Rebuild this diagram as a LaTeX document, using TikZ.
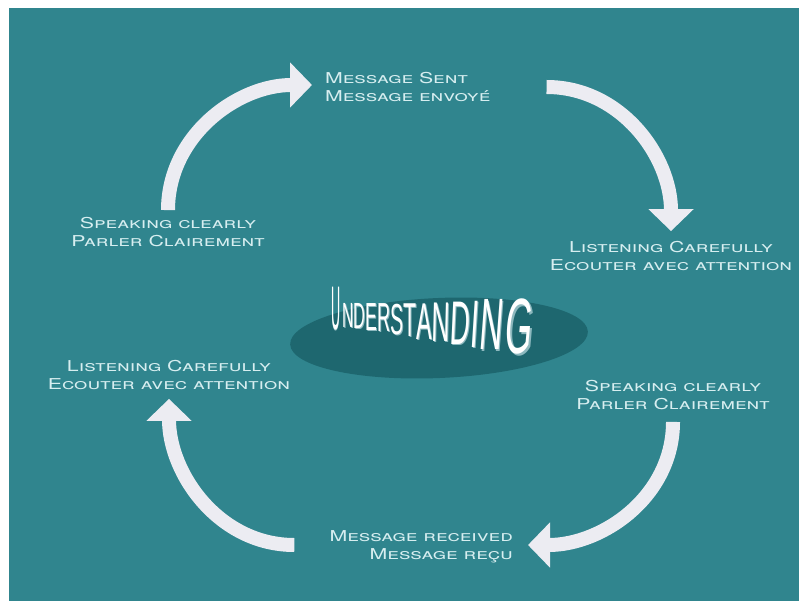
\documentclass[tikz,border=0pt]{standalone}
\usepackage{fontspec}
\usetikzlibrary{arrows.meta,shapes.geometric}
\newfontfamily\cyclefont{TeX Gyre Heros}[Letters=SmallCaps,FakeStretch=1.42]
\newfontfamily\wordfont{Liberation Sans}
\definecolor{sea}{RGB}{48,133,142}
\definecolor{pool}{RGB}{30,103,111}
\definecolor{chalk}{RGB}{236,236,242}
\definecolor{ink}{RGB}{215,238,240}
\definecolor{rim}{RGB}{140,184,190}
\newcommand\raised[1]{\rlap{\kern0.7pt\raisebox{-0.4pt}{\color{rim}#1}}#1}

\begin{document}
\begin{tikzpicture}[x=1pt,y=1pt,
    label/.style={font=\cyclefont\fontsize{15}{18}\selectfont, text=ink, align=center, inner sep=2pt},
    flow/.style={draw=chalk, line width=14pt, -{Triangle[width=44pt,length=22pt]}},
    word/.style={font=\wordfont\fontsize{14}{14}\selectfont, anchor=base west, inner sep=0pt, text=white}]
    \fill[white] (0,0) rectangle (799,603);
    \useasboundingbox (0,0) rectangle (799,603);
    \fill[sea] (9,2) rectangle (799,595);

    \node[ellipse, fill=pool, minimum width=298pt, minimum height=80pt, rotate=2.5] (disc) at (439,265) {};

    \node[label, anchor=west, align=left] (sent) at (323,516) {Message Sent\\Message envoyé};
    \node[label] (listenR) at (671,347) {Listening Carefully\\Ecouter avec attention};
    \node[label] (speakR) at (673,208) {Speaking clearly\\Parler Clairement};
    \node[label, anchor=east, align=right] (received) at (515,56) {Message received\\Message reçu};
    \node[label] (listenL) at (169,228) {Listening Carefully\\Ecouter avec attention};
    \node[label] (speakL) at (168,371) {Speaking clearly\\Parler Clairement};

    \draw[flow] ([yshift=5pt]speakL.north) to[out=90,in=180] ([xshift=-11pt,yshift=2pt]sent.west);
    \draw[flow] ([xshift=54pt]sent.east) to[out=0,in=90] ([yshift=8pt]listenR.north);
    \draw[flow] ([yshift=-10pt]speakR.south) to[out=-90,in=0] ([xshift=13pt,yshift=2pt]received.east);
    \draw[flow] ([xshift=-33pt,yshift=2pt]received.west) to[out=180,in=-90] ([yshift=-7pt]listenL.south);

    \foreach \ch/\x/\y/\h/\k/\s [count=\i] in {U/331/274/44/0.9/0, N/342/276/25/1.125/0, D/353/275/26/1.17/0,
        E/365/273/28/1.26/0, R/377/272/29/1.3/0, S/390/269/31/1.4/0, T/403/267/34/1.53/0,
        A/416/264/37/1.67/0, N/431/262/40/1.8/0.05, D/449/259/44/1.98/0.1, I/469/256/48/2.16/0.14,
        N/478/254/52/2.3/0.17, G/503/250/56/2.5/0.2}{
        \pgfmathsetmacro\ys{\h/10}
        \node[word, xscale=\k, yscale=\ys, xslant=\s] (u\i) at (\x,\y) {\raised{\ch}};
    }
\end{tikzpicture}
\end{document}
